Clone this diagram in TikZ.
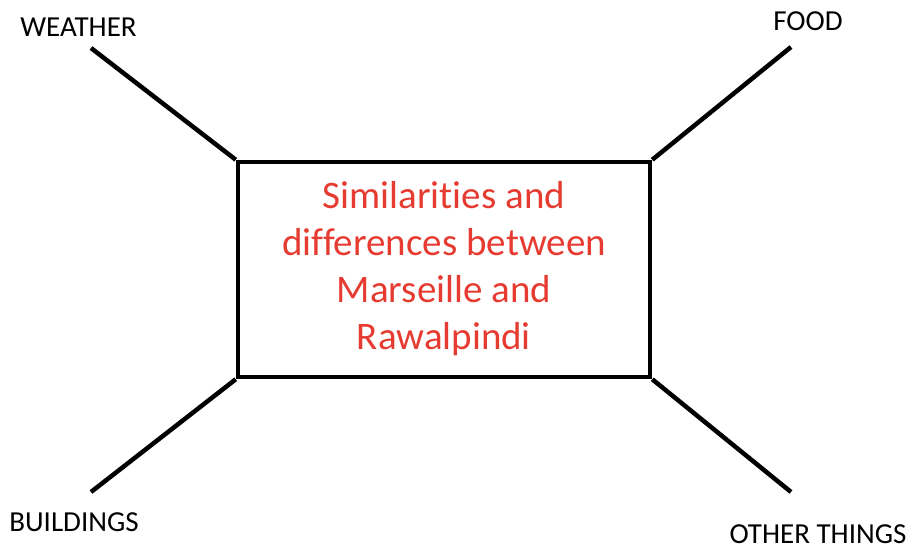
\documentclass[tikz,border=0pt]{standalone}
\usepackage{fontspec}
\setmainfont{Carlito}
\newfontfamily\titlefont[Ligatures={NoCommon}]{Carlito}
\definecolor{titlered}{HTML}{E63B30}
\begin{document}
\begin{tikzpicture}[
    x=1pt, y=-1pt,
    leg/.style={line width=4.5pt, line cap=butt},
    lbl/.style={font=\fontsize{29}{32}\selectfont, inner sep=0pt, text=black},
    title/.style={
        font=\titlefont\fontsize{39}{47}\selectfont, text=titlered,
        align=center, inner sep=0pt
    }
]
\useasboundingbox (0,0) rectangle (911,548);
% central box
\node[draw, line width=4.5pt, minimum width=412pt, minimum height=215pt,
      inner sep=0pt] (box) at (444,269.5) {};
\node[title] (topic) at (444,269)
    {Similarities and\\differences between\\Marseille and\\Rawalpindi};
% free ends of the legs
\coordinate (nw) at (91,48);
\coordinate (ne) at (791,47);
\coordinate (sw) at (91,492);
\coordinate (se) at (791,492);
\draw[leg] (box.north west) -- (nw);
\draw[leg] (box.north east) -- (ne);
\draw[leg] (box.south west) -- (sw);
\draw[leg] (box.south east) -- (se);
% labels
\node[lbl] (weather) at (78.5,27) {WEATHER};
\node[lbl] (food) at (808,21) {FOOD};
\node[lbl] (buildings) at (74,522) {BUILDINGS};
\node[lbl] (other) at (818,534) {OTHER THINGS};
\end{tikzpicture}
\end{document}
